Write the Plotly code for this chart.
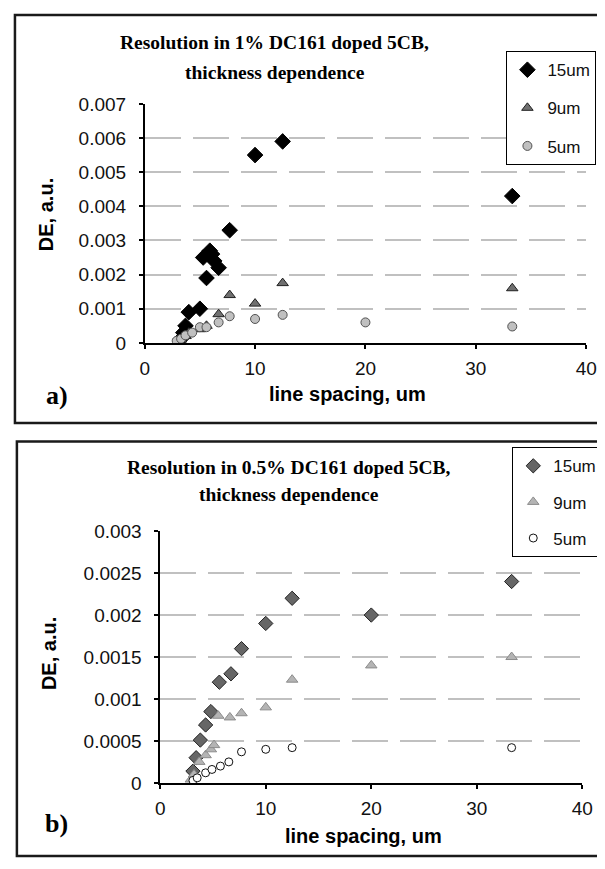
import plotly.graph_objects as go

# page is rendered with an 8px body margin: map page pixels -> figure pixels
OFF = 8
W, H = 605 - OFF, 869 - OFF

# ---------------- data: panel a) 1% DC161 ----------------
a15_x = [3.3, 3.5, 3.7, 4.0, 5.0, 5.3, 5.6, 5.9, 6.1, 6.3, 6.7, 7.7, 10, 12.5, 33.3]
a15_y = [0.00012, 0.0003, 0.0005, 0.0009, 0.001, 0.0025, 0.0019, 0.0027, 0.0026, 0.0024, 0.0022, 0.0033, 0.0055, 0.0059, 0.0043]
a9_x = [3.3, 3.7, 4.0, 5.0, 5.6, 6.7, 7.7, 10, 12.5, 33.3]
a9_y = [0.0001, 0.0002, 0.0003, 0.0004, 0.0005, 0.00084, 0.0014, 0.00115, 0.00175, 0.0016]
a5_x = [2.9, 3.3, 3.7, 4.3, 5.0, 5.6, 6.7, 7.7, 10, 12.5, 20, 33.3]
a5_y = [0.00006, 0.00012, 0.00022, 0.0003, 0.00046, 0.00046, 0.0006, 0.00078, 0.0007, 0.00082, 0.0006, 0.00048]

# ---------------- data: panel b) 0.5% DC161 ----------------
b15_x = [3.1, 3.4, 3.8, 4.3, 4.8, 5.6, 6.7, 7.7, 10, 12.5, 20, 33.3]
b15_y = [0.00014, 0.0003, 0.00051, 0.00069, 0.00085, 0.0012, 0.0013, 0.0016, 0.0019, 0.0022, 0.002, 0.0024]
b9_x = [2.9, 3.2, 3.7, 4.3, 4.8, 5.1, 5.5, 6.6, 7.7, 10, 12.5, 20, 33.3]
b9_y = [0.00004, 0.0001, 0.00025, 0.00033, 0.0004, 0.00045, 0.0008, 0.00078, 0.00083, 0.0009, 0.00123, 0.0014, 0.0015]
b5_x = [3.1, 3.5, 4.3, 4.9, 5.7, 6.5, 7.7, 10, 12.5, 33.3]
b5_y = [0.00003, 0.00006, 0.00012, 0.00016, 0.0002, 0.00025, 0.00037, 0.0004, 0.00042, 0.00042]

series_names = ["15um", "9um", "5um"]
x_ticks = [0, 10, 20, 30, 40]
a_yticks = [0, 0.001, 0.002, 0.003, 0.004, 0.005, 0.006, 0.007]
a_ylabels = ["0", "0.001", "0.002", "0.003", "0.004", "0.005", "0.006", "0.007"]
b_yticks = [0, 0.0005, 0.001, 0.0015, 0.002, 0.0025, 0.003]
b_ylabels = ["0", "0.0005", "0.001", "0.0015", "0.002", "0.0025", "0.003"]

title_a = ["Resolution in 1% DC161 doped 5CB,", "thickness dependence"]
title_b = ["Resolution in 0.5% DC161 doped 5CB,", "thickness dependence"]
xlabel = "line spacing, um"
ylabel = "DE, a.u."


def px(x):
    return (x - OFF) / W


def py(y):
    return 1 - (y - OFF) / H


fig = go.Figure()

a_styles = [
    dict(symbol="diamond", size=12, color="black", line=dict(color="black", width=1)),
    dict(symbol="triangle-up", size=10, color="#707070", line=dict(color="#202020", width=1)),
    dict(symbol="circle", size=9, color="#c0c0c0", line=dict(color="#505050", width=1)),
]
b_styles = [
    dict(symbol="diamond", size=11, color="#666666", line=dict(color="#222222", width=1)),
    dict(symbol="triangle-up", size=10, color="#b4b4b4", line=dict(color="#8c8c8c", width=1)),
    dict(symbol="circle", size=8, color="white", line=dict(color="#111111", width=1)),
]

for (xs, ys), name, st in zip([(a15_x, a15_y), (a9_x, a9_y), (a5_x, a5_y)], series_names, a_styles):
    fig.add_trace(go.Scatter(x=xs, y=ys, mode="markers", name=name, marker=st,
                             xaxis="x", yaxis="y", legend="legend", legendgroup="a" + name))

for (xs, ys), name, st in zip([(b15_x, b15_y), (b9_x, b9_y), (b5_x, b5_y)], series_names, b_styles):
    fig.add_trace(go.Scatter(x=xs, y=ys, mode="markers", name=name, marker=st,
                             xaxis="x2", yaxis="y2", legend="legend2", legendgroup="b" + name))

tickfont = dict(family="Liberation Sans, Arial", size=19, color="#111111")
axis_common = dict(showline=True, linecolor="black", linewidth=1.5, ticks="outside",
                   ticklen=4, tickcolor="black", tickwidth=1.5, zeroline=False,
                   tickfont=tickfont, mirror=False)
grid = dict(showgrid=True, gridcolor="#c0c0c0", gridwidth=2, griddash="36px,12px")

fig.update_layout(
    width=W, height=H,
    margin=dict(l=0, r=0, t=0, b=0),
    paper_bgcolor="white", plot_bgcolor="white",
    showlegend=True,
    xaxis=dict(domain=[px(143.3), px(597)], range=[0, 40], tickvals=x_ticks,
               showgrid=False, anchor="y", ticklabelstandoff=4, **axis_common),
    yaxis=dict(domain=[py(341), py(96)], range=[0, 0.007], tickvals=a_yticks, ticktext=a_ylabels,
               anchor="x", ticklabelstandoff=9, **grid, **axis_common),
    xaxis2=dict(domain=[px(159.3), px(593)], range=[0, 40], tickvals=x_ticks,
                showgrid=False, anchor="y2", ticklabelstandoff=4, **axis_common),
    yaxis2=dict(domain=[py(792), py(534)], range=[0, 0.003], tickvals=b_yticks, ticktext=b_ylabels,
                anchor="x2", ticklabelstandoff=9, **grid, **axis_common),
    legend=dict(x=px(515), y=py(42), xanchor="left", yanchor="top",
                bordercolor="black", borderwidth=1, bgcolor="white",
                font=dict(family="Liberation Sans, Arial", size=17, color="#111111"),
                tracegroupgap=13, itemsizing="trace"),
    legend2=dict(x=px(521), y=py(448), xanchor="left", yanchor="top",
                 bordercolor="black", borderwidth=1, bgcolor="white",
                 font=dict(family="Liberation Sans, Arial", size=17, color="#111111"),
                 tracegroupgap=11, itemsizing="trace"),
)

# frames
fig.add_shape(type="rect", xref="paper", yref="paper", x0=px(10), x1=px(640), y0=py(423), y1=py(5),
              line=dict(color="#1a1a1a", width=2.5), layer="below")
fig.add_shape(type="rect", xref="paper", yref="paper", x0=px(12), x1=px(640), y0=py(867), y1=py(442),
              line=dict(color="#1a1a1a", width=2.5), layer="below")

serif = dict(family="Liberation Serif, Times New Roman", size=19.5, color="black")
sans_b = dict(family="Liberation Sans, Arial", size=20, color="black")


def ann(text, x, y, font, angle=0):
    fig.add_annotation(text=text, x=px(x), y=py(y), xref="paper", yref="paper",
                       showarrow=False, xanchor="center", yanchor="middle", font=font, textangle=angle)


ann("<b>" + title_a[0] + "</b>", 277, 33, serif)
ann("<b>" + title_a[1] + "</b>", 277, 64, serif)
ann("<b>" + title_b[0] + "</b>", 292, 469, serif)
ann("<b>" + title_b[1] + "</b>", 292, 496, serif)

ann("<b>" + xlabel + "</b>", 352, 393, sans_b)
ann("<b>" + xlabel + "</b>", 368, 846, sans_b)
ann("<b>" + ylabel + "</b>", 42, 210, sans_b, angle=-90)
ann("<b>" + ylabel + "</b>", 45, 660, sans_b, angle=-90)

ann("<b>a)</b>", 53, 395, dict(family="Liberation Serif, Times New Roman", size=26, color="black"))
ann("<b>b)</b>", 53, 834, dict(family="Liberation Serif, Times New Roman", size=26, color="black"))

fig.write_html("out.html")
